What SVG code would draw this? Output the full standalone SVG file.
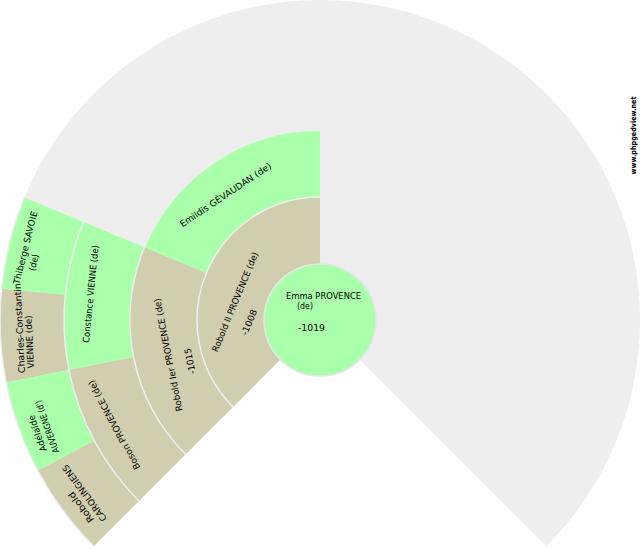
<svg xmlns="http://www.w3.org/2000/svg" width="640" height="550" viewBox="0 0 640 550">
<style>
.m{fill:#D0CEAE}
.f{fill:#AAFFAA}
.sep{fill:none;stroke:#EEEEEE;stroke-width:1.5}
text{font-family:"DejaVu Sans","Liberation Sans",sans-serif;font-size:9px;fill:#000}
.c text{text-anchor:middle}
</style>
<rect width="640" height="550" fill="#FFFFFF"/>
<path id="fan" d="M320,320 L93.73,546.27 A320,320 0 1 1 546.27,546.27 Z" fill="#EEEEEE"/>
<g id="n-thiberge-savoie" class="c">
<path class="f" d="M1.54,288.63 A320,320 0 0 1 24.36,197.54 L83.49,222.03 A256,256 0 0 0 65.23,294.91 Z"/>
<text transform="translate(28.4,248.4) rotate(-75.9375)" textLength="75" lengthAdjust="spacingAndGlyphs">Thiberge SAVOIE</text>
<text transform="translate(36.7,263.2) rotate(-75.9375)" textLength="17" lengthAdjust="spacingAndGlyphs">(de)</text>
</g>
<g id="n-charles-constantin-vienne" class="c">
<path class="m" d="M6.15,382.43 A320,320 0 0 1 1.54,288.63 L65.23,294.91 A256,256 0 0 0 68.92,369.94 Z"/>
<text transform="translate(22.7,328) rotate(-92.8125)" textLength="90" lengthAdjust="spacingAndGlyphs">Charles-Constantin</text>
<text transform="translate(32.7,341.7) rotate(-92.8125)" textLength="53" lengthAdjust="spacingAndGlyphs">VIENNE (de)</text>
</g>
<g id="n-adelaide-auvergne" class="c">
<path class="f" d="M37.79,470.85 A320,320 0 0 1 6.15,382.43 L68.92,369.94 A256,256 0 0 0 94.23,440.68 Z"/>
<text transform="translate(40.3,432.3) rotate(-109.6875)" textLength="38" lengthAdjust="spacingAndGlyphs">Adélaïde</text>
<text transform="translate(50,425.5) rotate(-109.6875)" textLength="55" lengthAdjust="spacingAndGlyphs">AUVERGNE (d')</text>
</g>
<g id="n-robold-carolingiens" class="c">
<path class="m" d="M93.73,546.27 A320,320 0 0 1 37.79,470.85 L94.23,440.68 A256,256 0 0 0 138.98,501.02 Z"/>
<text transform="translate(83.6,505.4) rotate(-126.5625)" textLength="36" lengthAdjust="spacingAndGlyphs">Robold</text>
<text transform="translate(87,491.2) rotate(-126.5625)" textLength="68" lengthAdjust="spacingAndGlyphs">CAROLINGIENS</text>
</g>
<g id="n-constance-vienne" class="c">
<path class="f" d="M68.92,369.94 A256,256 0 0 1 83.49,222.03 L144.46,247.29 A190,190 0 0 0 133.65,357.07 Z"/>
<text transform="translate(93.7,294.2) rotate(-84.375)" textLength="98" lengthAdjust="spacingAndGlyphs">Constance VIENNE (de)</text>
</g>
<g id="n-boson-provence" class="c">
<path class="m" d="M138.98,501.02 A256,256 0 0 1 68.92,369.94 L133.65,357.07 A190,190 0 0 0 185.65,454.35 Z"/>
<text transform="translate(117,423.4) rotate(-118.125)" textLength="100" lengthAdjust="spacingAndGlyphs">Boson PROVENCE (de)</text>
</g>
<g id="n-robold-ier-provence" class="c">
<path class="m" d="M185.65,454.35 A190,190 0 0 1 144.46,247.29 L206.36,272.93 A123,123 0 0 0 233.03,406.97 Z"/>
<text transform="translate(171.3,354.2) rotate(-101.25)" textLength="115" lengthAdjust="spacingAndGlyphs">Robold Ier PROVENCE (de)</text>
<text transform="translate(193,360.5) rotate(-101.25)" textLength="26" lengthAdjust="spacingAndGlyphs">-1015</text>
</g>
<g id="n-emildis-gevaudan" class="c">
<path class="f" d="M144.46,247.29 A190,190 0 0 1 320,130 L320,197 A123,123 0 0 0 206.36,272.93 Z"/>
<text transform="translate(227.3,197.5) rotate(-33.75)" textLength="108" lengthAdjust="spacingAndGlyphs">Emildis GÉVAUDAN (de)</text>
</g>
<g id="n-robold-ii-provence" class="c">
<path class="m" d="M233.03,406.97 A123,123 0 0 1 320,197 L320,264 A56,56 0 0 0 280.40,359.60 Z"/>
<text transform="translate(238,303) rotate(-67.5)" textLength="107" lengthAdjust="spacingAndGlyphs">Robold II PROVENCE (de)</text>
<text transform="translate(252,323.5) rotate(-67.5)" textLength="27" lengthAdjust="spacingAndGlyphs">-1008</text>
</g>
<g id="connectors">
<path class="sep" d="M93.73,546.27 A320,320 0 0 1 24.36,197.54"/>
<path class="sep" d="M138.98,501.02 A256,256 0 0 1 83.49,222.03"/>
<path class="sep" d="M185.65,454.35 A190,190 0 0 1 320,130"/>
<path class="sep" d="M233.03,406.97 A123,123 0 0 1 320,197"/>
</g>
<g id="n-emma-provence">
<circle cx="320" cy="320" r="56" fill="#AAFFAA" stroke="#E6E6E6" stroke-width="1.5"/>
<text x="286" y="299" textLength="75" lengthAdjust="spacingAndGlyphs">Emma PROVENCE</text>
<text x="297" y="308.5" textLength="16" lengthAdjust="spacingAndGlyphs">(de)</text>
<text x="298" y="331" textLength="27" lengthAdjust="spacingAndGlyphs">-1019</text>
</g>
<text transform="translate(636,135.5) rotate(-90)" text-anchor="middle" textLength="78" lengthAdjust="spacingAndGlyphs" style="font-size:7.5px;font-weight:bold">www.phpgedview.net</text>
</svg>
